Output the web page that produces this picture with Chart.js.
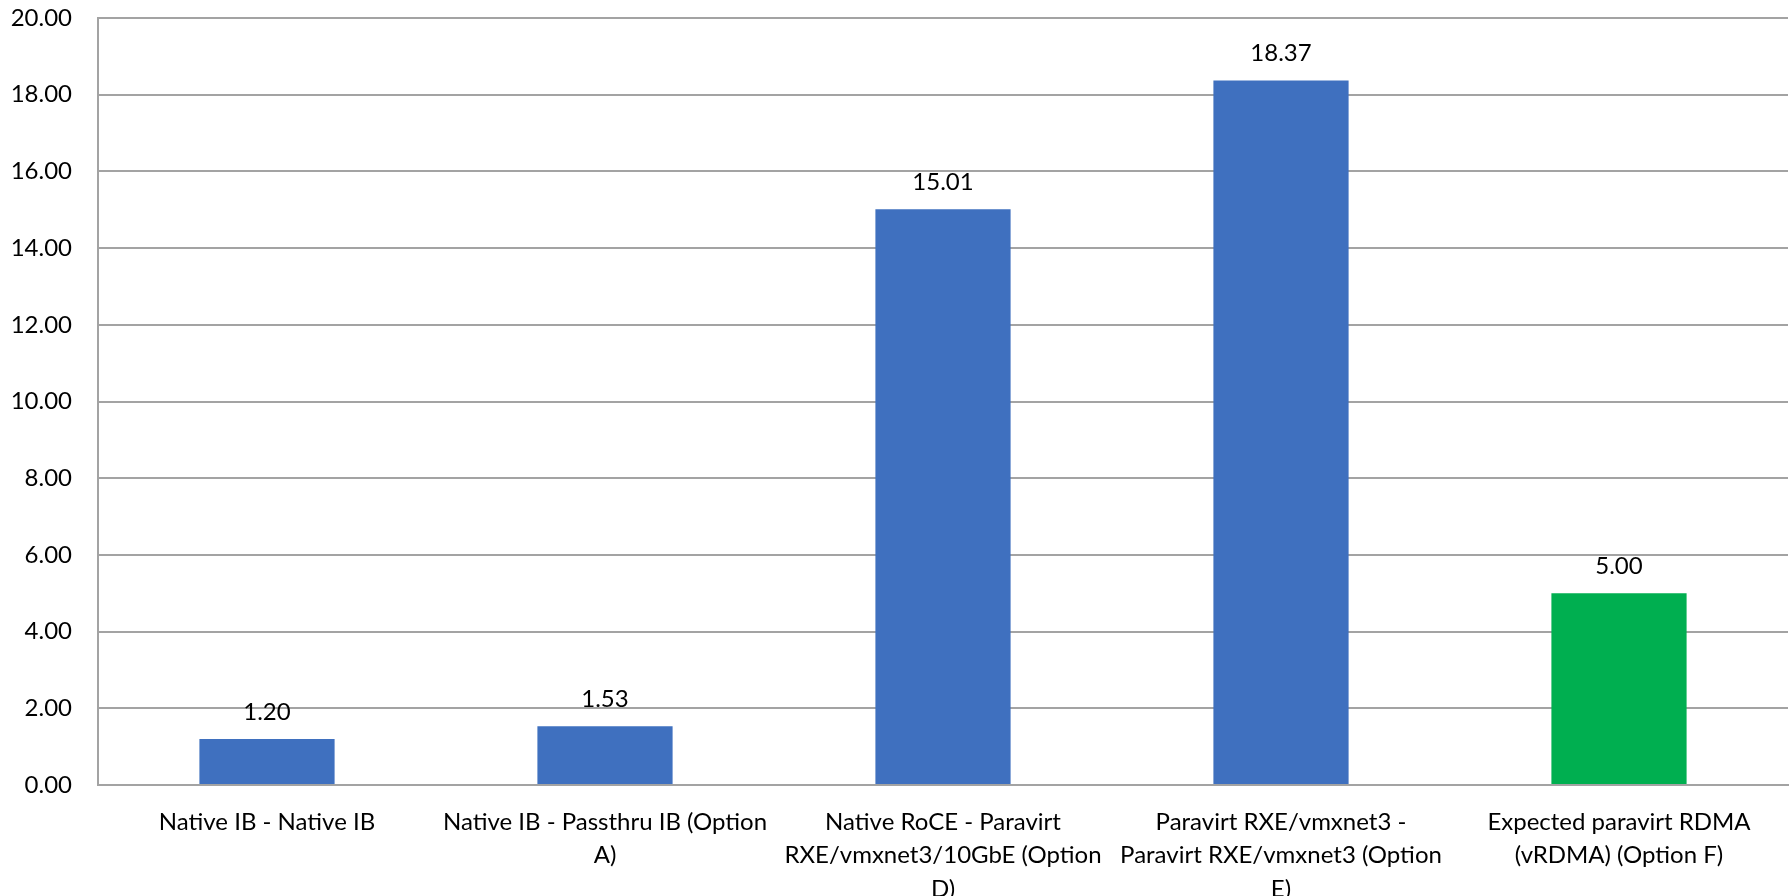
<!DOCTYPE html>
<html>
<head>
<meta charset="utf-8">
<script src="https://cdn.jsdelivr.net/npm/chart.js@4"></script>
<style>
  html, body { margin: 0; padding: 0; background: #fff; overflow: hidden; }
  #wrap { width: 1791px; height: 896px; }
</style>
</head>
<body>
<div id="wrap"><canvas id="chart"></canvas></div>
<script>
// categories, one array of lines per label
const categories = [
    ['Native IB - Native IB'],
    ['Native IB - Passthru IB (Option', 'A)'],
    ['Native RoCE - Paravirt', 'RXE/vmxnet3/10GbE (Option', 'D)'],
    ['Paravirt RXE/vmxnet3 -', 'Paravirt RXE/vmxnet3 (Option', 'E)'],
    ['Expected paravirt RDMA', '(vRDMA) (Option F)'],
];
const latency = [1.20, 1.53, 15.01, 18.37, 5.00];
const barColors = ['#3F70BF', '#3F70BF', '#3F70BF', '#3F70BF', '#00AF50'];
const yTicks = { min: 0, max: 20, step: 2 };

const FONT = 'Lato, "Open Sans", sans-serif';
const FONT_SIZE = 24;
const GRID = '#a3a3a3';

// value text above each bar
const valueLabels = {
    id: 'valueLabels',
    afterDatasetsDraw(chart) {
        const ctx = chart.ctx;
        const meta = chart.getDatasetMeta(0);
        ctx.save();
        ctx.font = FONT_SIZE + 'px ' + FONT;
        ctx.fillStyle = '#000';
        ctx.textAlign = 'center';
        ctx.textBaseline = 'middle';
        meta.data.forEach((bar, i) => {
            const { x, y } = bar.getProps(['x', 'y'], true);
            ctx.fillText(latency[i].toFixed(2), x, y - 27);
        });
        ctx.restore();
    }
};

new Chart(document.getElementById('chart'), {
    type: 'bar',
    data: {
        labels: categories,
        datasets: [{
            data: latency,
            backgroundColor: barColors,
            borderWidth: 0,
            categoryPercentage: 1,
            barPercentage: 0.4,
        }]
    },
    options: {
        responsive: true,
        maintainAspectRatio: false,
        animation: false,
        layout: { padding: { top: 18, right: 3, left: 0, bottom: 0 } },
        plugins: {
            legend: { display: false },
            tooltip: { enabled: false },
        },
        scales: {
            x: {
                grid: { display: false, drawTicks: false },
                border: { display: true, color: GRID, width: 2 },
                ticks: {
                    color: '#000',
                    font: { family: FONT, size: FONT_SIZE, lineHeight: 1.4 },
                    padding: 20,
                    maxRotation: 0,
                    autoSkip: false,
                },
                afterFit(scale) {
                    scale.height = 111;
                    scale.paddingLeft = 0;
                    scale.paddingRight = 0;
                },
            },
            y: {
                min: yTicks.min,
                max: yTicks.max,
                grid: { color: GRID, lineWidth: 2, drawTicks: false },
                border: { display: true, color: GRID, width: 2 },
                ticks: {
                    stepSize: yTicks.step,
                    color: '#000',
                    font: { family: FONT, size: FONT_SIZE },
                    padding: 26,
                    callback: v => v.toFixed(2),
                },
                afterFit(scale) {
                    scale.width = 98;
                    scale.paddingTop = 0;
                    scale.paddingBottom = 0;
                },
            }
        }
    },
    plugins: [valueLabels]
});
</script>
</body>
</html>
